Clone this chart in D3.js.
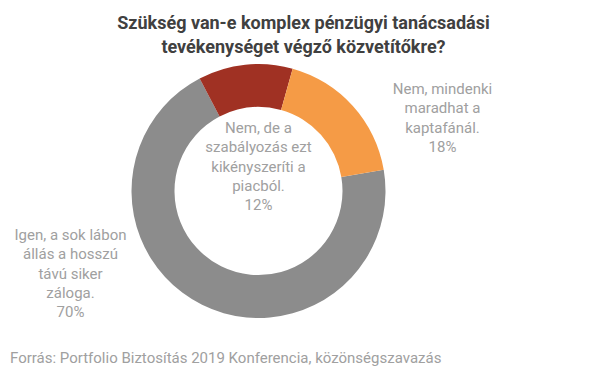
<!DOCTYPE html>
<html>
<head>
<meta charset="utf-8">
<script src="https://cdn.jsdelivr.net/npm/d3@7"></script>
<style>
  body { margin: 0; background: #fff; }
  svg { display: block; }
</style>
</head>
<body>
<svg id="chart" width="605" height="378"></svg>
<script>
const titleLines = ["Szükség van-e komplex pénzügyi tanácsadási", "tevékenységet végző közvetítőkre?"];
const categories = [
  "Igen, a sok lábon állás a hosszú távú siker záloga.",
  "Nem, de a szabályozás ezt kikényszeríti a piacból.",
  "Nem, mindenki maradhat a kaptafánál."
];
const values = [70, 12, 18];
const labelLines = [
  ["Igen, a sok lábon", "állás a hosszú", "távú siker", "záloga.", "70%"],
  ["Nem, de a", "szabályozás ezt", "kikényszeríti a", "piacból.", "12%"],
  ["Nem, mindenki", "maradhat a", "kaptafánál.", "18%"]
];
const colors = ["#8c8c8c", "#a03123", "#f59b46"];
const source = "Forrás: Portfolio Biztosítás 2019 Konferencia, közönségszavazás";

const svg = d3.select("#chart");
const cx = 258.5, cy = 191, outerR = 127, innerR = 84;

svg.append("g").selectAll("text").data(titleLines).join("text")
  .attr("x", 303.5).attr("y", (d, i) => 29 + i * 24)
  .attr("text-anchor", "middle")
  .attr("font-family", "Roboto, sans-serif").attr("font-weight", 700)
  .attr("font-size", 18).attr("fill", "#404040")
  .text(d => d);

const startA = 80.4 * Math.PI / 180;
const pie = d3.pie().sort(null).value(d => d)
  .startAngle(startA).endAngle(startA + 2 * Math.PI);
const arc = d3.arc().innerRadius(innerR).outerRadius(outerR);
const arcs = pie(values);

svg.append("g").attr("transform", `translate(${cx},${cy})`)
  .selectAll("path").data(arcs).join("path")
  .attr("d", arc).attr("fill", (d, i) => colors[i]);

// label anchor positions (center x, first-line baseline y)
const labelPos = [[70.5, 240], [258.5, 133], [442.5, 94]];
const lh = 19.3;
labelLines.forEach((lines, i) => {
  const g = svg.append("text")
    .attr("text-anchor", "middle")
    .attr("font-family", "Roboto, sans-serif").attr("font-weight", 400)
    .attr("font-size", 15).attr("fill", "#a0a0a0");
  lines.forEach((l, j) => {
    g.append("tspan").attr("x", labelPos[i][0]).attr("y", labelPos[i][1] + j * lh).text(l);
  });
});

svg.append("text").attr("x", 10).attr("y", 363)
  .attr("font-family", "Roboto, sans-serif").attr("font-size", 15)
  .attr("fill", "#a0a0a0").text(source);
</script>
</body>
</html>
